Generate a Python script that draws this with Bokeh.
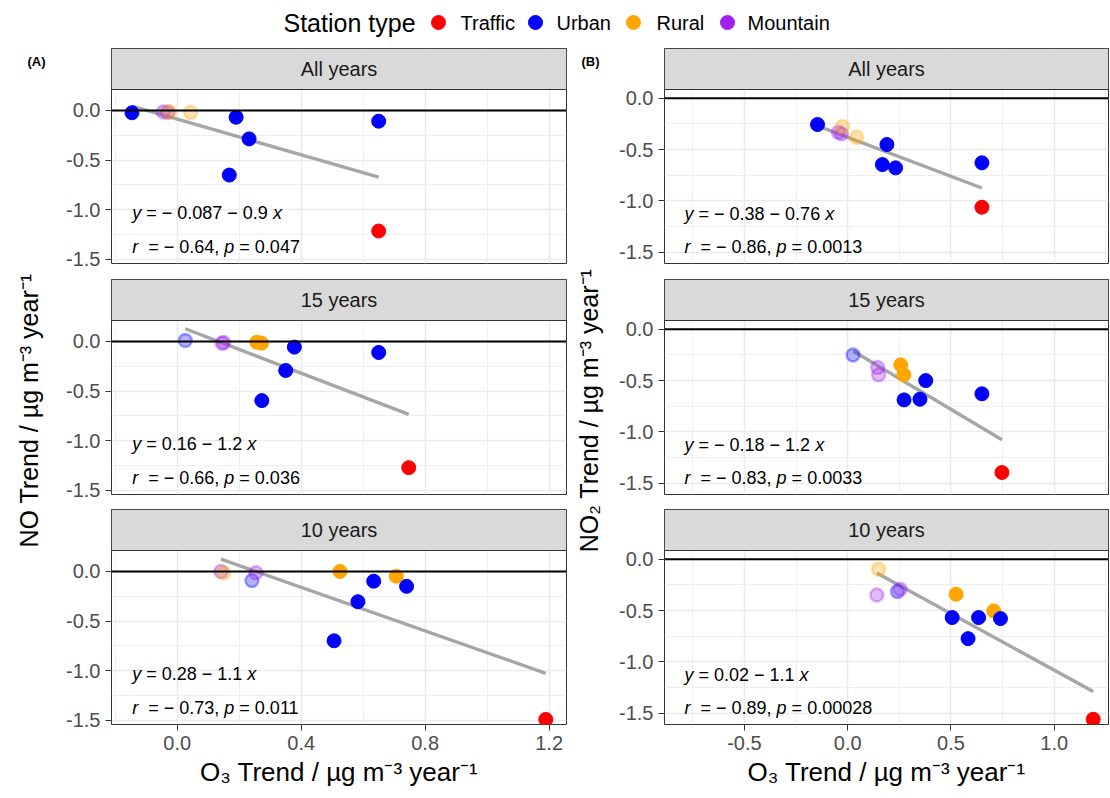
import math
from bokeh.plotting import figure
from bokeh.layouts import column, row
from bokeh.models import (Range1d, LinearAxis, FixedTicker, Grid, Span, Label,
                          ColumnDataSource, CustomJSTickFormatter)
from bokeh.core.properties import value
from bokeh.embed import file_html
from bokeh.resources import INLINE

# ---------------- data ----------------
periods = ["All years", "15 years", "10 years"]

all_type = ["Urban", "Mountain", "Mountain", "Rural", "Rural", "Urban", "Urban", "Urban", "Urban", "Traffic"]
all_o3 = [-0.146, -0.045, -0.030, -0.025, 0.043, 0.190, 0.232, 0.168, 0.650, 0.650]
all_no = [-0.023, -0.015, -0.017, -0.012, -0.020, -0.068, -0.287, -0.652, -0.108, -1.217]
all_no2 = [-0.256, -0.331, -0.347, -0.276, -0.380, -0.451, -0.678, -0.646, -0.629, -1.061]
all_faded = [0, 1, 1, 1, 1, 0, 0, 0, 0, 0]

y15_type = ["Urban", "Mountain", "Mountain", "Rural", "Rural", "Urban", "Urban", "Urban", "Urban", "Traffic"]
y15_o3 = [0.026, 0.145, 0.150, 0.257, 0.272, 0.378, 0.350, 0.273, 0.650, 0.747]
y15_no = [0.010, -0.017, -0.010, -0.007, -0.017, -0.057, -0.293, -0.597, -0.111, -1.274]
y15_no2 = [-0.250, -0.373, -0.444, -0.347, -0.444, -0.500, -0.681, -0.688, -0.629, -1.395]
y15_faded = [1, 1, 1, 0, 0, 0, 0, 0, 0, 0]

y10_type = ["Mountain", "Rural", "Urban", "Mountain", "Rural", "Urban", "Urban", "Urban", "Rural", "Urban", "Traffic"]
y10_o3 = [0.141, 0.150, 0.241, 0.254, 0.525, 0.506, 0.583, 0.634, 0.707, 0.740, 1.189]
y10_no = [0.000, -0.013, -0.092, -0.013, 0.000, -0.700, -0.305, -0.098, -0.048, -0.150, -1.494]
y10_no2 = [-0.348, -0.097, -0.315, -0.292, -0.341, -0.568, -0.773, -0.568, -0.503, -0.578, -1.558]
y10_faded = [1, 1, 1, 1, 0, 0, 0, 0, 0, 0, 0]

no_intercept = [-0.087, 0.16, 0.28]
no_slope = [-0.9, -1.2, -1.1]
no_r = [-0.64, -0.66, -0.73]
no_p = [0.047, 0.036, 0.011]
no2_intercept = [-0.38, -0.18, 0.02]
no2_slope = [-0.76, -1.2, -1.1]
no2_r = [-0.86, -0.83, -0.89]
no2_p = [0.0013, 0.0033, 0.00028]

station_types = ["Traffic", "Urban", "Rural", "Mountain"]
station_colors = ["#FF0000", "#0000FF", "#FFA500", "#A020F0"]

xticks_a = [0.0, 0.4, 0.8, 1.2]
xminor_a = [-0.2, 0.2, 0.6, 1.0]
xticks_b = [-0.5, 0.0, 0.5, 1.0]
xminor_b = [-0.75, -0.25, 0.25, 0.75, 1.25]
yticks = [-1.5, -1.0, -0.5, 0.0]
yminor = [-1.25, -0.75, -0.25]

# ---------------- styling helpers ----------------
FONT = "Liberation Sans"
COLOR = dict(zip(station_types, station_colors))
CW = {' ': 278, '=': 584, '\u2212': 584, '-': 333, '.': 278, ',': 278,
      'x': 500, 'y': 500, 'r': 333, 'p': 556}
for d in "0123456789":
    CW[d] = 556


def tw(s, size):
    return sum(CW.get(c, 556) for c in s) * size / 1000.0


def fmt(v):
    return ("\u2212 " if v < 0 else "") + repr(abs(v))


def add_rich(p, x, y, pieces, size):
    off = 0.0
    for txt, ital in pieces:
        if txt.strip():
            p.add_layout(Label(x=x, y=y, x_offset=off, text=txt, text_font=FONT,
                               text_font_size=f"{size}px",
                               text_font_style="italic" if ital else "normal",
                               text_baseline="middle", text_align="left",
                               text_color="black"))
        off += tw(txt, size)


def strip_grids(p):
    p.center = [c for c in p.center if not isinstance(c, Grid)]


data = [
    (all_type, all_o3, all_no, all_no2, all_faded),
    (y15_type, y15_o3, y15_no, y15_no2, y15_faded),
    (y10_type, y10_o3, y10_no, y10_no2, y10_faded),
]

COLS = {
    "A": dict(left=61, fw=455, right=4, xr=(-0.212, 1.256), yr=(-1.545, 0.212),
              xt=xticks_a, xm=xminor_a, inter=no_intercept, slope=no_slope, r=no_r, pv=no_p,
              ann_x=-0.145, ann_y=(-1.04, -1.381)),
    "B": dict(left=58, fw=444, right=2, xr=(-0.887, 1.263), yr=(-1.609, 0.085),
              xt=xticks_b, xm=xminor_b, inter=no2_intercept, slope=no2_slope, r=no2_r, pv=no2_p,
              ann_x=-0.79, ann_y=(-1.125, -1.451)),
}
FRAME_H = 174
STRIP_H = 41
BOTTOMS = [16, 15, 74]
XLAB = "O\u2083 Trend / \u00b5g m\u207b\u00b3 year\u207b\u00b9"
YLAB_A = "NO Trend / \u00b5g m\u207b\u00b3 year\u207b\u00b9"
YLAB_B = "NO\u2082 Trend / \u00b5g m\u207b\u00b3 year\u207b\u00b9"
COL_H = 750


def make_panel(col, k):
    c = COLS[col]
    bottom = BOTTOMS[k]
    types, o3, no, no2, faded = data[k]
    ys = no if col == "A" else no2
    ybot, ytop = c["yr"]
    scale = FRAME_H / (ytop - ybot)
    strip_top = ytop + STRIP_H / scale
    p = figure(width=c["left"] + c["fw"] + c["right"], height=STRIP_H + FRAME_H + bottom,
               x_range=Range1d(*c["xr"]), y_range=Range1d(ybot, strip_top),
               x_axis_location=None, y_axis_location=None, toolbar_location=None,
               output_backend="svg", title=None,
               min_border_left=c["left"], min_border_right=c["right"],
               min_border_top=0, min_border_bottom=bottom)
    strip_grids(p)
    p.background_fill_color = "white"
    p.border_fill_color = "white"
    p.outline_line_color = "#333333"
    p.outline_line_width = 1

    for dim, ticks, minor in ((0, c["xt"], c["xm"]), (1, yticks, yminor)):
        p.add_layout(Grid(dimension=dim, ticker=FixedTicker(ticks=ticks, minor_ticks=minor),
                          grid_line_color="#EBEBEB", grid_line_width=1.6,
                          minor_grid_line_color="#EBEBEB", minor_grid_line_width=0.8), "center")

    tickfmt = CustomJSTickFormatter(code="return tick.toFixed(1);")
    yax = LinearAxis(ticker=FixedTicker(ticks=yticks), formatter=tickfmt,
                     axis_line_color=None, major_tick_line_color="#333333", major_tick_in=0,
                     major_tick_out=6, minor_tick_line_color=None,
                     major_label_text_font=FONT, major_label_text_font_size="20px",
                     major_label_text_color="#4D4D4D", major_label_standoff=5)
    p.add_layout(yax, "left")

    if k == 2:
        xax = LinearAxis(ticker=FixedTicker(ticks=c["xt"]), formatter=tickfmt,
                         axis_line_color=None, major_tick_line_color="#333333", major_tick_in=0,
                         major_tick_out=6, minor_tick_line_color=None,
                         major_label_text_font=FONT, major_label_text_font_size="20px",
                         major_label_text_color="#4D4D4D", major_label_standoff=5,
                         axis_label=XLAB, axis_label_text_font=FONT,
                         axis_label_text_font_size="26px", axis_label_text_font_style="normal",
                         axis_label_text_color="black", axis_label_standoff=4)
        p.add_layout(xax, "below")

    # facet strip (inside the frame, above the panel area)
    x0r, x1r = c["xr"]
    p.quad(left=[x0r], right=[x1r], bottom=[ytop], top=[strip_top],
           fill_color="#D9D9D9", line_color="#333333", line_width=1)
    p.text(x=[(x0r + x1r) / 2], y=[(ytop + strip_top) / 2], text=[periods[k]],
           text_font=value(FONT), text_font_size=value("20px"), text_color=value("#1A1A1A"),
           text_align=value("center"), text_baseline=value("middle"))

    # regression line
    a, b = c["inter"][k], c["slope"][k]
    x0, x1 = min(o3), max(o3)
    p.line([x0, x1], [a + b * x0, a + b * x1], line_color="#A6A6A6", line_width=3.4)

    # points
    src = ColumnDataSource(dict(
        x=o3, y=ys, color=[COLOR[t] for t in types],
        fa=[0.3 if f else 1.0 for f in faded],
        la=[0.35 if f else 1.0 for f in faded],
        lw=[2.5 if f else 1.0 for f in faded],
        sz=[13 if f else 14 for f in faded],
    ))
    p.scatter("x", "y", source=src, size="sz", fill_color="color", line_color="color",
              fill_alpha="fa", line_alpha="la", line_width="lw")

    p.add_layout(Span(location=0, dimension="width", line_color="black", line_width=2))

    # equation annotations
    size = 18
    r, pv = c["r"][k], c["pv"][k]
    sign = "\u2212" if b < 0 else "+"
    add_rich(p, c["ann_x"], c["ann_y"][0],
             [("y", 1), (" ", 0), (f"= {fmt(a)} {sign} {abs(b)!r}", 0), (" ", 0), ("x", 1)], size)
    add_rich(p, c["ann_x"], c["ann_y"][1],
             [("r", 1), ("  ", 0), (f"= {fmt(r)},", 0), (" ", 0), ("p", 1), (" ", 0),
              (f"= {pv!r}", 0)], size)
    return p


def make_ylab(width, text, xc, tag, tag_x):
    f = figure(width=width, height=COL_H, x_range=Range1d(0, width), y_range=Range1d(0, COL_H),
               x_axis_location=None, y_axis_location=None, toolbar_location=None,
               output_backend="svg", title=None, min_border=0)
    strip_grids(f)
    f.outline_line_color = None
    f.background_fill_color = "white"
    f.text(x=[xc], y=[COL_H - (410 - 48)], text=[text], angle=math.pi / 2,
           text_font=value(FONT), text_font_size=value("25px"), text_color=value("black"),
           text_align=value("center"), text_baseline=value("middle"))
    f.text(x=[tag_x], y=[COL_H - (61 - 48)], text=[tag],
           text_font=value(FONT), text_font_size=value("13px"), text_font_style=value("bold"),
           text_color=value("black"), text_align=value("left"), text_baseline=value("middle"))
    return f


# ---------------- legend row ----------------
leg = figure(width=1110, height=48, x_range=Range1d(0, 1110), y_range=Range1d(48, 0),
             x_axis_location=None, y_axis_location=None, toolbar_location=None,
             output_backend="svg", title=None, min_border=0)
strip_grids(leg)
leg.outline_line_color = None
leg.background_fill_color = "white"
leg.text(x=[283], y=[22], text=["Station type"], text_font=value(FONT),
         text_font_size=value("25px"), text_baseline=value("middle"), text_align=value("left"),
         text_color=value("black"))
lsrc = ColumnDataSource(dict(x=[438, 535, 633, 727], tx=[460, 556, 656, 747], y=[22] * 4,
                             c=station_colors, t=station_types))
leg.scatter("x", "y", source=lsrc, size=14, fill_color="c", line_color="c")
leg.text("tx", "y", text="t", source=lsrc, text_font=value(FONT), text_font_size=value("20px"),
         text_baseline=value("middle"), text_align=value("left"), text_color=value("black"))

colA = column([make_panel("A", k) for k in range(3)], spacing=0)
colB = column([make_panel("B", k) for k in range(3)], spacing=0)
ylabA = make_ylab(50, YLAB_A, 28, "(A)", 27)
ylabB = make_ylab(36, YLAB_B, 18, "(B)", 11)
layout = column(leg, row(ylabA, colA, ylabB, colB, spacing=0), spacing=0)

open("out.html", "w").write(file_html(layout, INLINE))
